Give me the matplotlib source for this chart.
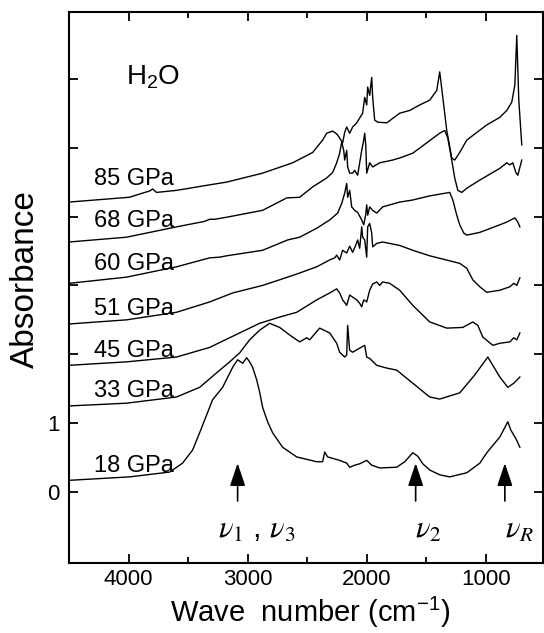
"""IR absorbance spectra of H2O ice at high pressure (stacked)"""

import matplotlib
matplotlib.use('Agg')
import matplotlib.pyplot as plt

plt.rcParams['font.family'] = ['Liberation Sans', 'DejaVu Sans']
plt.rcParams['mathtext.fontset'] = 'custom'
plt.rcParams['mathtext.rm'] = 'Liberation Sans'
plt.rcParams['mathtext.it'] = 'Liberation Sans:italic'

# 压力标签 (从上到下)
pressures = ['85 GPa', '68 GPa', '60 GPa', '51 GPa', '45 GPa', '33 GPa', '18 GPa']

# 各条谱线: 波数 (cm-1) 与吸光度 (已含偏移)
wn_85 = [4500, 3992, 3882, 3824, 3798, 3765, 3597, 3319, 3176, 2874, 2622, 2454, 2370, 2336,
         2286, 2252, 2227, 2202, 2185, 2168, 2143, 2118, 2084, 2059, 2034, 2017, 2000, 1992,
         1975, 1958, 1950, 1933, 1908, 1832, 1723, 1639, 1555, 1471, 1412, 1387, 1361, 1328,
         1286, 1261, 1219, 1160, 992, 882, 824, 782, 756, 740, 723, 698]
a_85 = [4.21, 4.28, 4.34, 4.37, 4.40, 4.35, 4.38, 4.46, 4.50, 4.63, 4.78, 4.93, 5.11, 5.21,
        5.24, 5.20, 5.14, 5.07, 5.22, 5.30, 5.21, 5.30, 5.36, 5.43, 5.50, 5.73, 5.62, 5.88,
        5.76, 6.02, 5.73, 5.40, 5.37, 5.36, 5.50, 5.54, 5.62, 5.69, 5.83, 6.10, 5.73, 5.25,
        4.85, 4.82, 4.93, 5.11, 5.33, 5.44, 5.54, 5.66, 5.91, 6.63, 5.69, 5.04]

wn_68 = [4500, 4017, 3597, 3361, 3319, 3277, 3176, 2874, 2672, 2563, 2454, 2336, 2286, 2252,
         2227, 2210, 2193, 2185, 2168, 2160, 2143, 2118, 2101, 2076, 2042, 2025, 2017, 2008,
         2000, 1975, 1950, 1891, 1782, 1723, 1613, 1496, 1387, 1345, 1319, 1286, 1261, 1235,
         1202, 1160, 1050, 882, 824, 798, 773, 748, 731, 698]
a_68 = [3.63, 3.70, 3.85, 3.93, 3.96, 3.96, 3.99, 4.09, 4.27, 4.28, 4.43, 4.56, 4.64, 4.78,
        4.92, 5.08, 4.96, 4.82, 4.96, 4.72, 4.63, 4.63, 4.67, 4.60, 4.96, 5.11, 5.21, 5.04,
        4.63, 4.78, 4.72, 4.78, 4.82, 4.85, 4.92, 5.07, 5.21, 5.25, 5.14, 4.82, 4.56, 4.38,
        4.35, 4.41, 4.53, 4.70, 4.78, 4.75, 4.78, 4.64, 4.60, 4.82]

wn_60 = [4500, 4017, 3597, 3319, 3235, 3176, 2874, 2664, 2563, 2420, 2311, 2244, 2210, 2185,
         2168, 2160, 2143, 2126, 2101, 2076, 2042, 2025, 2008, 2000, 1992, 1975, 1950, 1916,
         1866, 1723, 1613, 1471, 1303, 1277, 1244, 1219, 1185, 1160, 1050, 882, 824, 756,
         731, 714]
a_60 = [3.03, 3.12, 3.27, 3.40, 3.41, 3.43, 3.51, 3.66, 3.70, 3.83, 3.95, 4.05, 4.19, 4.34,
        4.48, 4.28, 4.38, 4.14, 4.09, 4.06, 3.95, 3.88, 4.03, 4.17, 4.02, 4.14, 4.09, 4.05,
        4.14, 4.21, 4.24, 4.30, 4.35, 4.24, 4.02, 3.88, 3.76, 3.73, 3.77, 3.88, 3.92, 3.98,
        3.92, 3.85]

wn_51 = [4500, 4017, 3597, 3319, 3126, 2874, 2664, 2563, 2420, 2311, 2269, 2252, 2227, 2202,
         2168, 2143, 2118, 2093, 2076, 2059, 2042, 2034, 2017, 2000, 1992, 1975, 1958, 1950,
         1916, 1866, 1723, 1613, 1471, 1219, 1160, 1109, 1050, 992, 882, 798, 765, 740, 714]
a_51 = [2.44, 2.50, 2.61, 2.76, 2.89, 3.00, 3.12, 3.18, 3.27, 3.37, 3.40, 3.44, 3.37, 3.51,
        3.47, 3.57, 3.48, 3.58, 3.66, 3.54, 3.85, 3.70, 3.66, 3.41, 3.85, 3.90, 3.76, 3.56,
        3.61, 3.63, 3.58, 3.51, 3.43, 3.32, 3.25, 3.08, 2.98, 2.90, 2.93, 2.98, 3.03, 3.00,
        3.11]

wn_45 = [4500, 4017, 3597, 3319, 3151, 3067, 2899, 2731, 2588, 2420, 2311, 2252, 2227, 2202,
         2168, 2143, 2118, 2084, 2059, 2042, 2025, 2000, 1975, 1950, 1916, 1891, 1866, 1807,
         1748, 1723, 1613, 1471, 1328, 1193, 1109, 1067, 1025, 941, 882, 798, 765, 740, 714]
a_45 = [1.84, 1.89, 1.96, 2.10, 2.24, 2.31, 2.45, 2.54, 2.61, 2.79, 2.89, 2.95, 2.89, 2.79,
        2.71, 2.86, 2.83, 2.79, 2.74, 2.69, 2.79, 2.76, 2.93, 3.02, 3.05, 3.00, 3.05, 3.03,
        2.96, 2.93, 2.71, 2.47, 2.38, 2.39, 2.47, 2.42, 2.25, 2.13, 2.16, 2.18, 2.24, 2.21,
        2.31]

wn_33 = [4500, 4017, 3597, 3403, 3261, 3151, 3067, 2983, 2899, 2815, 2731, 2647, 2563, 2504,
         2479, 2395, 2311, 2252, 2227, 2185, 2168, 2160, 2143, 2118, 2059, 2017, 2000, 1975,
         1916, 1832, 1748, 1613, 1471, 1387, 1219, 1093, 983, 882, 815, 765, 714]
a_33 = [1.25, 1.29, 1.38, 1.52, 1.73, 1.89, 2.02, 2.21, 2.35, 2.45, 2.39, 2.28, 2.18, 2.24,
        2.21, 2.38, 2.31, 2.16, 2.03, 1.96, 1.99, 2.42, 2.06, 2.03, 2.09, 2.13, 1.96, 1.94,
        1.84, 1.80, 1.77, 1.58, 1.38, 1.35, 1.44, 1.70, 1.96, 1.67, 1.52, 1.58, 1.67]

wn_18 = [4500, 3992, 3655, 3546, 3462, 3403, 3344, 3294, 3210, 3126, 3084, 3042, 3008, 2983,
         2958, 2924, 2899, 2874, 2832, 2790, 2706, 2588, 2420, 2370, 2353, 2328, 2227, 2168,
         2143, 2101, 2059, 2000, 1958, 1891, 1748, 1681, 1613, 1571, 1529, 1471, 1387, 1303,
         1160, 1050, 992, 882, 815, 790, 756, 740, 714]
a_18 = [0.17, 0.22, 0.29, 0.42, 0.61, 0.86, 1.12, 1.34, 1.52, 1.81, 1.92, 1.87, 1.95, 1.89,
        1.81, 1.63, 1.45, 1.23, 1.02, 0.86, 0.65, 0.51, 0.44, 0.44, 0.58, 0.51, 0.46, 0.42,
        0.36, 0.39, 0.41, 0.46, 0.39, 0.35, 0.36, 0.44, 0.57, 0.52, 0.41, 0.32, 0.25, 0.22,
        0.28, 0.42, 0.57, 0.80, 1.02, 0.90, 0.80, 0.75, 0.65]

# 振动模式位置 (cm-1)
mode_names = [r'$\nu_{\mathit{1}}$ , $\nu_{\mathit{3}}$', r'$\nu_{\mathit{2}}$', r'$\nu_{\mathit{R}}$']
mode_wn = [3084, 1589, 840]

x_ticks = [4000, 3000, 2000, 1000]
x_minor = [3500, 2500, 1500]
y_ticks = [0, 1, 2, 3, 4, 5, 6]
y_ticklabels = ['0', '1', '', '', '', '', '']


fig = plt.figure(figsize=(5.44, 6.33), dpi=100)
ax = fig.add_axes([0.1268, 0.1106, 0.8713, 0.8705])

spectra = [(wn_85, a_85), (wn_68, a_68), (wn_60, a_60), (wn_51, a_51),
           (wn_45, a_45), (wn_33, a_33), (wn_18, a_18)]
for wn, a in spectra:
    ax.plot(wn, a, color='black', lw=1.0)

# 压力标签放在每条谱线左端上方
label_base = [4.46, 3.85, 3.22, 2.57, 1.96, 1.38, 0.29]
for name, yb in zip(pressures, label_base):
    ax.text(4290, yb, name, fontsize=17, ha='left', va='baseline')

ax.text(4020, 5.91, r'H$_2$O', fontsize=20, ha='left', va='baseline')

# 箭头与模式标签
text_wn = [2924, 1487, 714]
for name, w, tw in zip(mode_names, mode_wn, text_wn):
    ax.annotate('', xy=(w, 0.42), xytext=(w, -0.13),
                arrowprops=dict(arrowstyle='-|>,head_length=1.4,head_width=0.47',
                                color='black', lw=1.2, shrinkA=0, shrinkB=0,
                                mutation_scale=10))
    ax.text(tw, -0.55, name, fontsize=22, ha='center', va='center',
            math_fontfamily='stix')

ax.set_xlim(4500, 520)
ax.set_ylim(-1.03, 6.97)
ax.set_xticks(x_ticks)
ax.set_xticks(x_minor, minor=True)
ax.set_yticks(y_ticks)
ax.set_yticklabels(y_ticklabels)

ax.tick_params(which='both', direction='in', top=True, right=True, width=1.3,
               labelsize=16)
ax.tick_params(which='major', length=6.5)
ax.tick_params(which='minor', length=4.5)
ax.tick_params(axis='x', pad=4)
ax.tick_params(axis='y', pad=7)
for s in ax.spines.values():
    s.set_linewidth(1.5)

fig.text(25 / 544, 1 - 279 / 633, 'Absorbance', fontsize=24, rotation=90,
         ha='center', va='center')
fig.text(310 / 544, 1 - 622 / 633, r'Wave  number (cm$^{-1}$)', fontsize=21,
         ha='center', va='baseline')

fig.savefig('out.png', dpi=100)
